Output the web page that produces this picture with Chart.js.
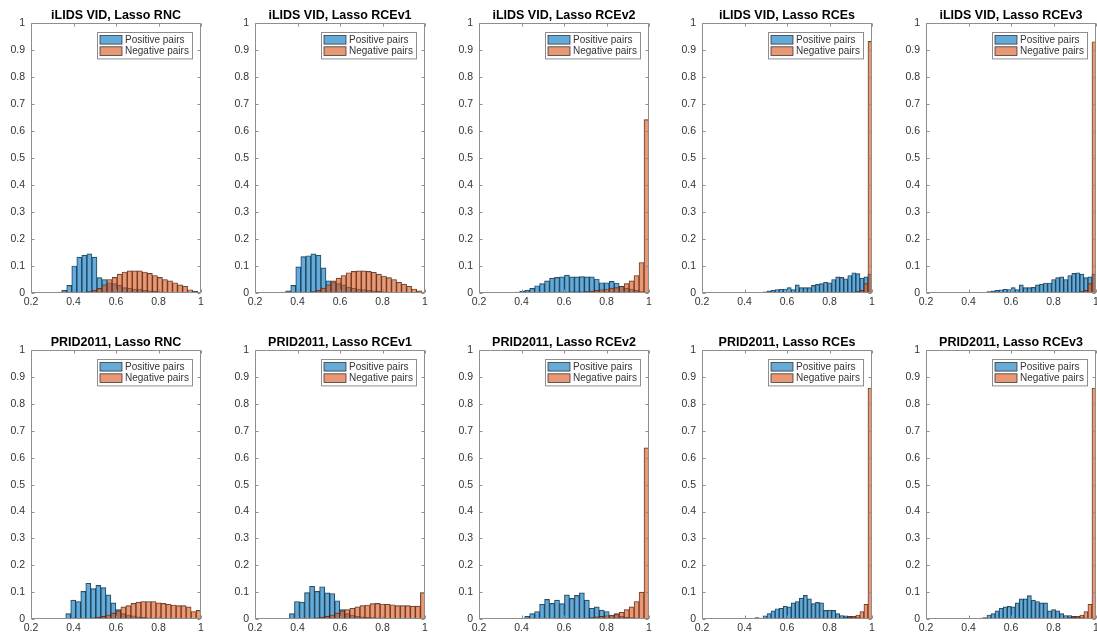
<!DOCTYPE html>
<html><head><meta charset="utf-8">
<script src="https://cdn.jsdelivr.net/npm/chart.js@4/dist/chart.umd.min.js"></script>
<style>
html,body{margin:0;padding:0;background:#fff;}
body{width:1097px;height:633px;overflow:hidden;position:relative;}
canvas.p{position:absolute;}
</style></head><body>
<script>
// ---------- data ----------
const titles = [
  'iLIDS VID, Lasso RNC','iLIDS VID, Lasso RCEv1','iLIDS VID, Lasso RCEv2','iLIDS VID, Lasso RCEs','iLIDS VID, Lasso RCEv3',
  'PRID2011, Lasso RNC','PRID2011, Lasso RCEv1','PRID2011, Lasso RCEv2','PRID2011, Lasso RCEs','PRID2011, Lasso RCEv3'
];
const seriesLabels = ['Positive pairs','Negative pairs'];
const xTickVals = [0.2,0.4,0.6,0.8,1];
const xTickLabels = ['0.2','0.4','0.6','0.8','1'];
const yTickVals = [0,0.1,0.2,0.3,0.4,0.5,0.6,0.7,0.8,0.9,1];
const yTickLabels = ['0','0.1','0.2','0.3','0.4','0.5','0.6','0.7','0.8','0.9','1'];

// histogram bin grid per panel: first edge and bin width
const binStart = [0.3208,0.3208,0.3682,0.449,0.449, 0.3635,0.362,0.415,0.449,0.449];
const binWidth = [0.0237,0.0237,0.0234,0.019,0.019, 0.0236,0.0237,0.0234,0.019,0.019];

const iLIDS_RNC_pos   = [0.003,0.01,0.028,0.10,0.133,0.14,0.145,0.133,0.057,0.05,0.038,0.035,0.028,0.02,0.018,0.015,0.015,0.01,0.008,0.006,0.004,0.003,0.002,0.001,0,0,0,0,0];
const iLIDS_RNC_neg   = [0,0,0,0,0.001,0.002,0.005,0.01,0.017,0.03,0.05,0.058,0.07,0.078,0.082,0.082,0.082,0.078,0.073,0.065,0.058,0.05,0.045,0.038,0.03,0.025,0.012,0.006,0.002];
const iLIDS_RCEv1_pos = [0.003,0.008,0.028,0.097,0.135,0.138,0.145,0.14,0.093,0.045,0.04,0.035,0.03,0.022,0.018,0.015,0.013,0.01,0.008,0.006,0.004,0.003,0.002,0.001,0,0,0,0,0];
const iLIDS_RCEv1_neg = [0,0,0,0,0.001,0.002,0.005,0.01,0.018,0.03,0.045,0.055,0.065,0.075,0.08,0.082,0.082,0.08,0.077,0.07,0.063,0.057,0.05,0.04,0.033,0.025,0.015,0.008,0.003];
const iLIDS_RCEv2_pos = [0.003,0.007,0.01,0.017,0.027,0.035,0.045,0.055,0.058,0.06,0.066,0.06,0.06,0.061,0.06,0.06,0.052,0.038,0.038,0.043,0.037,0.025,0.018,0.015,0.01,0.005,0.002];
const iLIDS_RCEv2_neg = [0,0,0,0.001,0.001,0.001,0.002,0.002,0.002,0.003,0.003,0.004,0.004,0.004,0.005,0.007,0.01,0.012,0.015,0.018,0.02,0.025,0.035,0.045,0.065,0.113,0.643];
const iLIDS_RCEs_pos  = [0.002,0.002,0.004,0.008,0.01,0.013,0.014,0.015,0.02,0.013,0.03,0.02,0.02,0.02,0.028,0.032,0.035,0.04,0.038,0.05,0.06,0.058,0.053,0.065,0.075,0.072,0.055,0.06,0.07];
const iLIDS_RCEs_neg  = [0,0,0,0,0,0,0,0,0,0,0,0,0,0,0,0,0,0,0,0,0.001,0.001,0.002,0.002,0.003,0.005,0.01,0.035,0.933];
const iLIDS_RCEv3_pos = [0.002,0.002,0.005,0.008,0.01,0.012,0.014,0.013,0.02,0.013,0.03,0.02,0.02,0.021,0.03,0.033,0.037,0.037,0.05,0.057,0.06,0.05,0.065,0.073,0.075,0.07,0.057,0.06,0.07];
const iLIDS_RCEv3_neg = [0,0,0,0,0,0,0,0,0,0,0,0,0,0,0,0,0,0,0,0,0.001,0.001,0.002,0.002,0.003,0.005,0.01,0.035,0.932];
const PRID_RNC_pos    = [0.02,0.07,0.065,0.103,0.133,0.113,0.125,0.117,0.09,0.06,0.035,0.02,0.015,0.012,0.008,0.006,0.004,0.003,0.002,0.001,0.001,0,0,0,0,0,0];
const PRID_RNC_neg    = [0,0,0,0.001,0.002,0.004,0.007,0.01,0.015,0.022,0.03,0.045,0.05,0.058,0.063,0.065,0.065,0.065,0.06,0.058,0.055,0.052,0.05,0.05,0.045,0.028,0.032];
const PRID_RCEv1_pos  = [0.02,0.065,0.063,0.098,0.122,0.103,0.12,0.097,0.095,0.068,0.035,0.02,0.015,0.01,0.008,0.006,0.005,0.004,0.003,0.002,0.001,0.001,0,0,0,0,0];
const PRID_RCEv1_neg  = [0,0,0,0.001,0.002,0.004,0.007,0.01,0.015,0.022,0.03,0.035,0.04,0.045,0.05,0.052,0.057,0.058,0.056,0.055,0.053,0.05,0.05,0.05,0.048,0.048,0.098];
const PRID_RCEv2_pos  = [0.01,0.02,0.028,0.055,0.073,0.058,0.07,0.057,0.09,0.077,0.088,0.097,0.07,0.04,0.045,0.033,0.028,0.015,0.017,0.01,0.007,0.005,0.003,0.002,0.001];
const PRID_RCEv2_neg  = [0,0,0,0,0,0,0,0,0,0,0.001,0.002,0.003,0.005,0.008,0.01,0.012,0.015,0.02,0.025,0.035,0.045,0.065,0.1,0.637];
const PRID_RCEs_pos   = [0.005,0.003,0.012,0.02,0.03,0.038,0.04,0.048,0.045,0.06,0.065,0.078,0.088,0.075,0.057,0.062,0.06,0.032,0.033,0.032,0.02,0.013,0.012,0.01,0.008,0.005,0.003,0.002,0.001];
const PRID_RCEs_neg   = [0,0,0,0,0,0,0,0,0,0,0,0,0,0,0,0,0,0,0,0,0.002,0.003,0.005,0.007,0.01,0.015,0.028,0.055,0.86];
const PRID_RCEv3_pos  = [0.003,0.005,0.015,0.02,0.03,0.04,0.045,0.047,0.045,0.06,0.075,0.075,0.087,0.07,0.065,0.06,0.06,0.03,0.035,0.03,0.02,0.013,0.013,0.01,0.008,0.005,0.003,0.002,0.001];
const PRID_RCEv3_neg  = [0,0,0,0,0,0,0,0,0,0,0,0,0,0,0,0,0,0,0,0,0.002,0.003,0.005,0.007,0.01,0.015,0.028,0.055,0.86];

const posSeries = [iLIDS_RNC_pos,iLIDS_RCEv1_pos,iLIDS_RCEv2_pos,iLIDS_RCEs_pos,iLIDS_RCEv3_pos,PRID_RNC_pos,PRID_RCEv1_pos,PRID_RCEv2_pos,PRID_RCEs_pos,PRID_RCEv3_pos];
const negSeries = [iLIDS_RNC_neg,iLIDS_RCEv1_neg,iLIDS_RCEv2_neg,iLIDS_RCEs_neg,iLIDS_RCEv3_neg,PRID_RNC_neg,PRID_RCEv1_neg,PRID_RCEv2_neg,PRID_RCEs_neg,PRID_RCEv3_neg];

// ---------- layout / style ----------
const FONT = "'Liberation Sans', Arial, Helvetica, sans-serif";
const PLOT_W = 170, Y_W = 31, PAD_R = 12, X_H = 18;
const colLeft = [31, 254.75, 478.5, 702.25, 926];
const rowCanvasTop = [0, 327];
const rowCanvasH = [311, 310];
const AXIS_COLOR = '#8e8e8e';
const TEXT_COLOR = '#333333';
const POS_COLOR = 'rgba(0,114,189,0.6)';
const NEG_COLOR = 'rgba(217,83,25,0.6)';
const EDGE_COLOR = 'rgba(30,30,30,0.85)';

const boxPlugin = {
  id: 'box',
  afterDatasetsDraw(chart) {
    const {ctx, chartArea: a, scales} = chart;
    ctx.save();
    ctx.strokeStyle = AXIS_COLOR;
    ctx.lineWidth = 1;
    const L = Math.round(a.left) + 0.5, R = Math.round(a.right) - 0.5;
    const T = Math.round(a.top) + 0.5, B = Math.round(a.bottom) - 0.5;
    ctx.beginPath();
    ctx.rect(L, T, R - L, B - T);
    const tl = 3;
    xTickVals.forEach(v => {
      const x = Math.round(scales.x.getPixelForValue(v)) + 0.5;
      ctx.moveTo(x, B); ctx.lineTo(x, B - tl);
      ctx.moveTo(x, T); ctx.lineTo(x, T + tl);
    });
    yTickVals.forEach(v => {
      const y = Math.round(scales.y.getPixelForValue(v)) + 0.5;
      ctx.moveTo(L, y); ctx.lineTo(L + tl, y);
      ctx.moveTo(R, y); ctx.lineTo(R - tl, y);
    });
    ctx.stroke();
    ctx.restore();
  }
};

const legendBoxPlugin = {
  id: 'legendBox',
  afterDraw(chart) {
    const {ctx, chartArea: a} = chart;
    const ds = chart.data.datasets;
    ctx.save();
    ctx.font = '10px ' + FONT;
    const tw = Math.max(...ds.map(d => ctx.measureText(d.label).width));
    const W = 2.6 + 21.7 + 3.3 + tw + 3.5;
    const H = 26.4;
    const x0 = Math.round(a.right - 9.4 - W) + 0.5;
    const y0 = Math.round(a.top + 9) + 0.5;
    ctx.fillStyle = '#fff';
    ctx.fillRect(x0, y0, W, H);
    ctx.strokeStyle = AXIS_COLOR;
    ctx.lineWidth = 1;
    ctx.strokeRect(x0, y0, Math.round(W), H);
    ds.forEach((d, i) => {
      const sy = y0 + 3 + i * 11.3;
      ctx.fillStyle = d.backgroundColor;
      ctx.fillRect(x0 + 2.5, sy, 22, 8.6);
      ctx.strokeStyle = EDGE_COLOR;
      ctx.lineWidth = 0.8;
      ctx.strokeRect(x0 + 2.5, sy, 22, 8.6);
      ctx.fillStyle = TEXT_COLOR;
      ctx.textAlign = 'left';
      ctx.textBaseline = 'middle';
      ctx.fillText(d.label, x0 + 27.5, sy + 4.6);
    });
    ctx.restore();
  }
};

function toPoints(values, start, w) {
  return values.map((v, i) => ({x: start + (i + 0.5) * w, y: v}));
}

for (let p = 0; p < 10; p++) {
  const row = Math.floor(p / 5), col = p % 5;
  const cv = document.createElement('canvas');
  cv.className = 'p';
  const left = Math.round(colLeft[col] - Y_W);
  const w = Y_W + PLOT_W + PAD_R;
  const h = rowCanvasH[row];
  cv.width = w; cv.height = h;
  cv.style.left = left + 'px';
  cv.style.top = rowCanvasTop[row] + 'px';
  cv.style.width = w + 'px'; cv.style.height = h + 'px';
  document.body.appendChild(cv);

  const common = {grouped: false, barPercentage: 1, categoryPercentage: 1, borderWidth: 0.5,
                  borderColor: EDGE_COLOR, borderSkipped: false};
  new Chart(cv.getContext('2d'), {
    type: 'bar',
    data: {
      datasets: [
        Object.assign({label: seriesLabels[0], data: toPoints(posSeries[p], binStart[p], binWidth[p]),
          backgroundColor: POS_COLOR, order: 1}, common),
        Object.assign({label: seriesLabels[1], data: toPoints(negSeries[p], binStart[p], binWidth[p]),
          backgroundColor: NEG_COLOR, order: 0}, common)
      ]
    },
    options: {
      responsive: false, animation: false, devicePixelRatio: 1,
      layout: {padding: {left: 0, right: PAD_R, top: 0, bottom: 0}},
      plugins: {
        legend: {display: false},
        tooltip: {enabled: false},
        title: {display: true, text: titles[p], fullSize: false, color: '#000',
                font: {family: FONT, size: 12.5, weight: 'bold', lineHeight: 1.15}, padding: {top: 8, bottom: 1}}
      },
      scales: {
        x: {
          type: 'linear', min: 0.2, max: 1, offset: false,
          grid: {display: false, drawTicks: false}, border: {display: false},
          afterBuildTicks: s => { s.ticks = xTickVals.map(v => ({value: v})); },
          ticks: {padding: 3, color: TEXT_COLOR, font: {family: FONT, size: 10.5}, maxRotation: 0, autoSkip: false,
                  callback: (v, i) => xTickLabels[i]},
          afterFit: s => { s.height = X_H; }
        },
        y: {
          type: 'linear', min: 0, max: 1,
          grid: {display: false, drawTicks: false}, border: {display: false},
          afterBuildTicks: s => { s.ticks = yTickVals.map(v => ({value: v})); },
          ticks: {padding: 6, color: TEXT_COLOR, font: {family: FONT, size: 10.5}, autoSkip: false,
                  callback: (v, i) => yTickLabels[i]},
          afterFit: s => { s.width = Y_W; }
        }
      }
    },
    plugins: [boxPlugin, legendBoxPlugin]
  });
}
</script>
</body></html>
